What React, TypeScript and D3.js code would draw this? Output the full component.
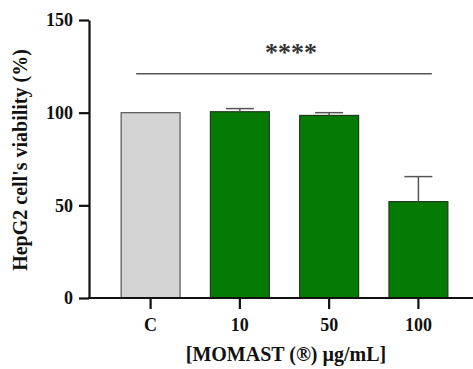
import React, { useEffect, useRef } from 'react';
import * as d3 from 'd3';

const groups = ['C', '10', '50', '100'];
const viability = [100, 100.5, 98.5, 52];
const errors = [0, 1.7, 1.5, 13.5];
const yTicks = [0, 50, 100, 150];

const W = 473;
const H = 369;

const App = () => {
  const ref = useRef<SVGSVGElement>(null);

  useEffect(() => {
    const svg = d3.select(ref.current);
    svg.selectAll('*').remove();

    const font = '"Liberation Serif", "Times New Roman", serif';
    const left = 89;
    const bottom = 298;

    const x = d3.scaleBand<string>()
      .domain(groups)
      .range([left, 480])
      .paddingInner(0.34)
      .paddingOuter(0.36);
    const y = d3.scaleLinear().domain([0, 150]).range([bottom, 20]);

    const data = groups.map((g, i) => ({ g, v: viability[i], e: errors[i] }));

    // bars
    svg.append('g')
      .selectAll('rect')
      .data(data)
      .enter()
      .append('rect')
      .attr('x', d => x(d.g)!)
      .attr('y', d => y(d.v))
      .attr('width', x.bandwidth())
      .attr('height', d => bottom - y(d.v))
      .attr('fill', d => (d.g === 'C' ? '#d4d4d4' : '#057a05'))
      .attr('stroke', d => (d.g === 'C' ? '#555' : '#1d3a1d'))
      .attr('stroke-width', 1.2);

    // error bars (upper only)
    const eb = svg.append('g')
      .selectAll('g')
      .data(data.filter(d => d.e > 0))
      .enter()
      .append('g')
      .attr('stroke', '#555')
      .attr('stroke-width', 1.5);
    eb.append('line')
      .attr('x1', d => x(d.g)! + x.bandwidth() / 2)
      .attr('x2', d => x(d.g)! + x.bandwidth() / 2)
      .attr('y1', d => y(d.v))
      .attr('y2', d => y(d.v + d.e));
    eb.append('line')
      .attr('x1', d => x(d.g)! + x.bandwidth() / 2 - 14)
      .attr('x2', d => x(d.g)! + x.bandwidth() / 2 + 14)
      .attr('y1', d => y(d.v + d.e))
      .attr('y2', d => y(d.v + d.e));

    // y axis
    const yAxis = svg.append('g')
      .attr('transform', `translate(${left},0)`)
      .call(d3.axisLeft(y).tickValues(yTicks).tickSize(10).tickPadding(6).tickSizeOuter(0));
    yAxis.select('.domain').attr('stroke', '#111').attr('stroke-width', 2.2);
    yAxis.selectAll('.tick line').attr('stroke', '#111').attr('stroke-width', 2.2);
    yAxis.selectAll('.tick text')
      .attr('font-family', font)
      .attr('font-weight', 'bold')
      .attr('font-size', 18)
      .attr('fill', '#111');

    // x axis
    const xAxis = svg.append('g')
      .attr('transform', `translate(0,${bottom})`)
      .call(d3.axisBottom(x).tickSize(11).tickPadding(9).tickSizeOuter(0));
    xAxis.select('.domain').attr('d', `M${left - 1},0H${W}`).attr('stroke', '#111').attr('stroke-width', 2.2);
    xAxis.selectAll('.tick line').attr('stroke', '#111').attr('stroke-width', 2.2);
    xAxis.selectAll('.tick text')
      .attr('font-family', font)
      .attr('font-weight', 'bold')
      .attr('font-size', 18)
      .attr('fill', '#111');

    // significance line
    const x0 = x('C')! + 15;
    const x1 = x('100')! + x.bandwidth() - 16;
    svg.append('line')
      .attr('x1', x0)
      .attr('x2', x1)
      .attr('y1', y(121))
      .attr('y2', y(121))
      .attr('stroke', '#555')
      .attr('stroke-width', 1.5);
    svg.append('text')
      .attr('x', 291)
      .attr('y', 61)
      .attr('text-anchor', 'middle')
      .attr('font-family', font)
      .attr('font-weight', 'bold')
      .attr('font-size', 26)
      .attr('fill', '#333')
      .text('****');

    // axis titles
    svg.append('text')
      .attr('x', 286)
      .attr('y', 361)
      .attr('text-anchor', 'middle')
      .attr('font-family', font)
      .attr('font-weight', 'bold')
      .attr('font-size', 20)
      .attr('fill', '#111')
      .text('[MOMAST (®) µg/mL]');
    svg.append('text')
      .attr('transform', 'translate(27,160) rotate(-90)')
      .attr('text-anchor', 'middle')
      .attr('font-family', font)
      .attr('font-weight', 'bold')
      .attr('font-size', 20)
      .attr('fill', '#111')
      .text("HepG2 cell's viability (%)");
  }, []);

  return (
    <svg
      ref={ref}
      width={W}
      height={H}
      style={{ position: 'absolute', left: 0, top: 0, background: '#fff' }}
    ></svg>
  );
};

export default App;
